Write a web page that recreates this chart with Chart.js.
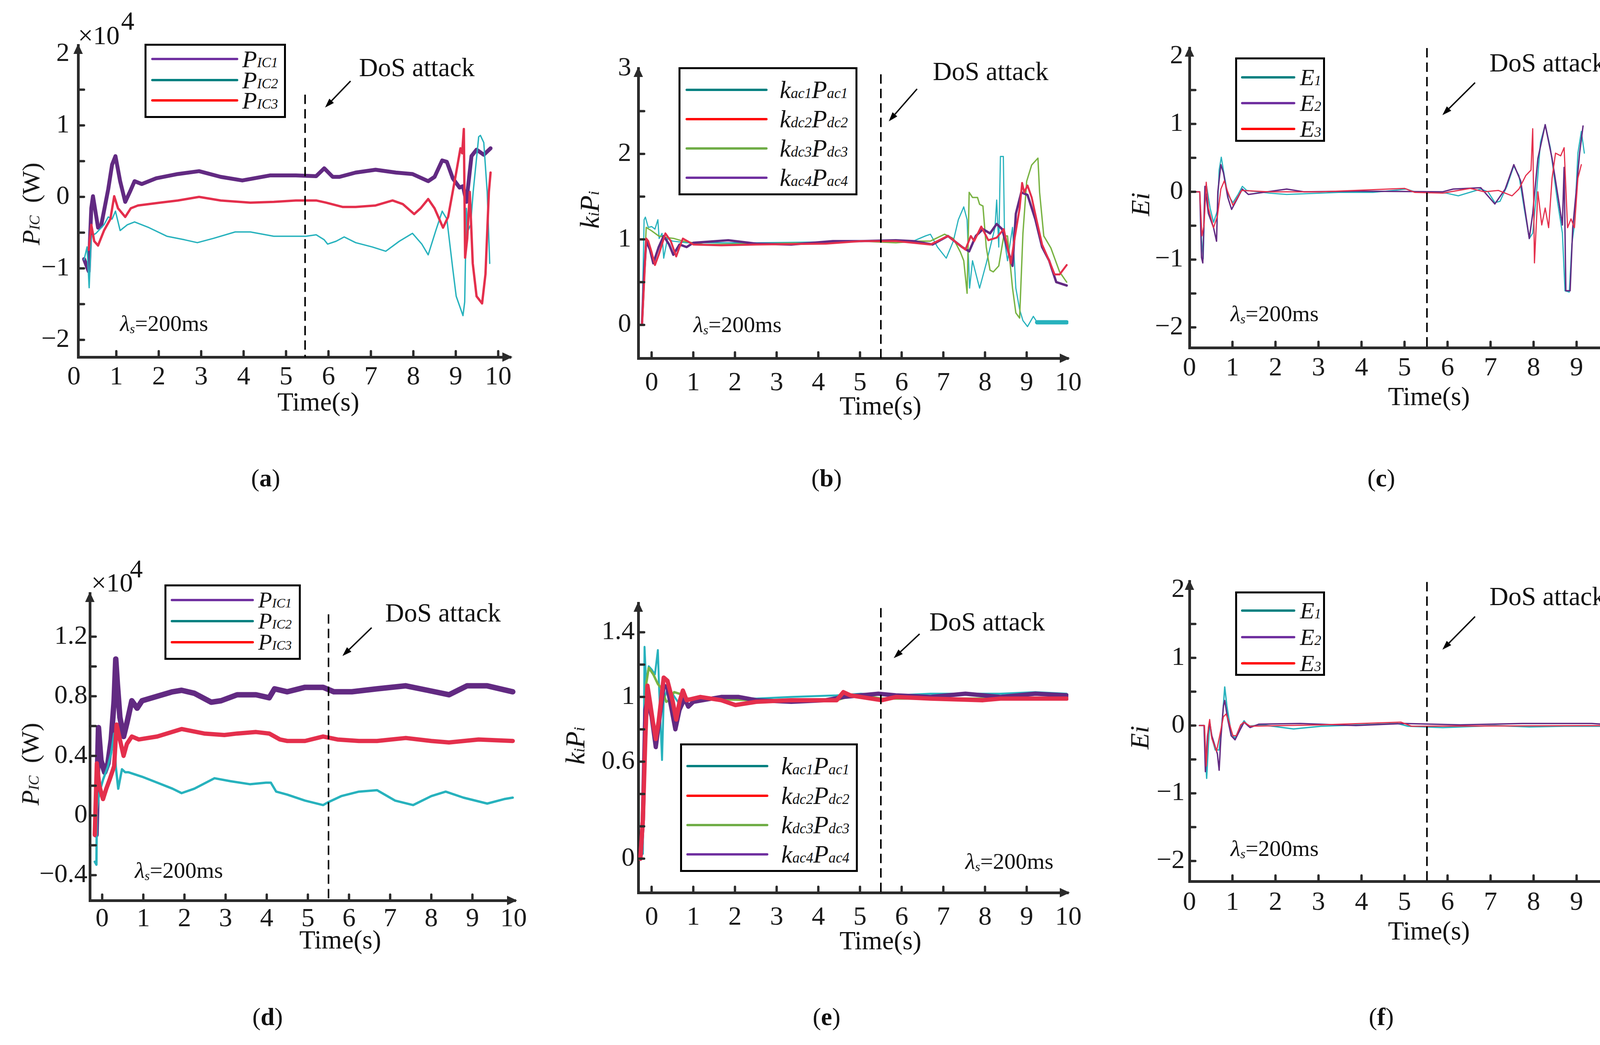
<!DOCTYPE html>
<html>
<head>
<meta charset="utf-8">
<title>DoS attack panels</title>
<script src="https://cdn.jsdelivr.net/npm/chart.js@4.4.1/dist/chart.umd.min.js"></script>
<style>
  html, body { margin: 0; padding: 0; background: #fff; }
  #fig { position: relative; width: 4242px; height: 2675px; background: #fff; overflow: hidden;
         font-family: "Liberation Serif", "Times New Roman", serif; color: #111; }
  #fig canvas { position: absolute; }
  .t { position: absolute; white-space: nowrap; line-height: 1; transform: translate(-50%, -50%); }
  .s { font-size: 0.58em; font-style: italic; }
  .legend { position: absolute; box-sizing: border-box; border: 5px solid #000; background: #fff; }
  .swatch { position: absolute; height: 6px; border-radius: 3px; }
</style>
</head>
<body>
<div id="fig"></div>
<script>
// ---------- data ----------
// x values are time in seconds, y values in the units of each panel's axis

// (a) P_IC in 1e4 W, lambda_s = 200 ms
const aTimeP1 = [0.24,0.35,0.41,0.45,0.57,0.64,0.81,0.90,0.98,1.09,1.21,1.32,1.43,1.60,1.94,2.45,2.95,3.46,3.97,4.62,5.23,5.71,5.90,6.10,6.26,6.64,7.11,7.59,7.98,8.35,8.50,8.68,8.79,8.93,9.09,9.17,9.25,9.37,9.49,9.66,9.82];
const aP1     = [-0.87,-1.04,-0.16,0.01,-0.43,-0.41,0.11,0.45,0.57,0.22,-0.07,0.07,0.22,0.18,0.26,0.32,0.36,0.28,0.23,0.30,0.30,0.29,0.40,0.28,0.28,0.34,0.38,0.34,0.32,0.22,0.28,0.51,0.49,0.26,0.13,0.15,-0.07,0.57,0.66,0.59,0.68];
const aTimeP2 = [0.24,0.31,0.36,0.41,0.52,0.71,0.81,0.90,0.98,1.09,1.26,1.43,1.77,2.19,2.61,2.91,3.29,3.80,4.16,4.71,5.47,5.71,5.90,5.98,6.18,6.37,6.64,7.03,7.35,7.67,7.98,8.20,8.35,8.53,8.68,8.79,8.93,9.01,9.17,9.21,9.25,9.29,9.35,9.41,9.54,9.58,9.66,9.74,9.80];
const aP2     = [-0.88,-0.70,-1.27,-0.55,-0.51,-0.39,-0.28,-0.31,-0.20,-0.47,-0.39,-0.35,-0.43,-0.55,-0.60,-0.64,-0.58,-0.49,-0.49,-0.55,-0.55,-0.53,-0.60,-0.66,-0.62,-0.56,-0.64,-0.70,-0.76,-0.62,-0.51,-0.66,-0.81,-0.47,-0.20,-0.31,-1.01,-1.39,-1.66,-1.47,-0.16,-0.47,-0.39,0.07,0.84,0.86,0.76,0.07,-0.93];
const aTimeP3 = [0.35,0.41,0.48,0.57,0.71,0.86,0.95,1.04,1.21,1.34,1.51,2.03,2.45,2.95,3.46,4.16,4.71,5.23,5.71,5.94,6.33,6.64,7.11,7.51,7.75,8.02,8.17,8.35,8.50,8.70,8.82,9.01,9.11,9.15,9.19,9.22,9.27,9.33,9.40,9.49,9.62,9.70,9.78,9.82];
const aP3     = [-0.74,-0.39,-0.62,-0.68,-0.47,-0.31,0.01,-0.16,-0.28,-0.16,-0.12,-0.08,-0.05,0.0,-0.05,-0.08,-0.07,-0.05,-0.05,-0.08,-0.14,-0.14,-0.12,-0.05,-0.10,-0.24,-0.16,-0.03,-0.16,-0.43,-0.28,0.34,0.68,0.61,0.95,-0.85,-0.58,0.07,-0.93,-1.39,-1.49,-1.08,0.07,0.34];

// (b) k_i P_i
const bTimeK1 = [-0.23,-0.18,-0.15,-0.08,0.0,0.08,0.15,0.18,0.25,0.29,0.38,0.50,0.84,2.51,4.18,5.86,6.28,6.57,6.69,6.86,7.07,7.24,7.36,7.49,7.57,7.63,7.70,7.87,8.03,8.24,8.28,8.33,8.37,8.44,8.47,8.54,8.66,8.74,8.83,8.91,9.02,9.16,9.25,9.96];
const bK1     = [0.02,1.23,1.26,1.14,1.15,1.12,1.23,1.01,1.07,0.78,1.01,0.98,0.96,0.96,0.97,0.98,0.98,1.04,1.06,0.91,0.78,0.98,1.23,1.38,1.23,0.43,0.75,0.43,0.72,1.14,1.46,0.91,1.97,1.97,0.98,0.75,1.14,0.43,0.18,0.05,-0.02,0.10,0.03,0.03];
const bTimeK2 = [-0.23,-0.17,-0.13,-0.08,0.0,0.08,0.17,0.33,0.46,0.59,0.67,0.75,1.0,1.67,2.51,4.18,5.02,5.86,6.69,7.11,7.45,7.53,7.66,7.74,7.91,8.08,8.28,8.45,8.54,8.62,8.70,8.83,8.89,8.94,9.02,9.12,9.25,9.37,9.54,9.67,9.79,9.96];
const bK2     = [0,0.59,1.01,0.98,0.85,0.70,0.82,1.07,0.98,0.80,0.91,1.01,0.94,0.93,0.94,0.95,0.98,0.98,0.94,1.04,0.91,0.88,1.04,0.98,1.15,0.99,1.02,1.12,0.91,0.72,0.98,1.36,1.66,1.55,1.63,1.49,1.20,0.94,0.75,0.59,0.59,0.70];
const bTimeK3 = [-0.23,-0.18,-0.13,0.0,0.17,0.38,0.54,0.75,1.26,2.51,4.18,5.02,5.86,6.36,6.69,7.03,7.24,7.41,7.49,7.57,7.62,7.70,7.82,7.87,7.95,8.03,8.12,8.20,8.33,8.45,8.54,8.66,8.74,8.83,8.91,9.00,9.12,9.27,9.31,9.41,9.58,9.79,9.96];
const bK3     = [0.02,0.59,1.14,1.10,1.04,1.02,1.01,0.98,0.94,0.95,0.96,0.98,0.96,0.98,0.98,1.06,1.01,0.85,0.75,0.37,1.55,1.49,1.49,1.41,1.39,0.91,0.64,0.62,0.69,1.04,1.04,0.43,0.14,0.08,1.07,1.68,1.87,1.95,1.55,1.04,0.90,0.62,0.50];
const bTimeK4 = [-0.23,-0.18,-0.13,-0.04,0.04,0.17,0.29,0.42,0.52,0.67,0.84,1.0,1.84,2.51,3.35,4.35,5.02,5.86,6.28,6.74,7.11,7.45,7.62,7.78,7.95,8.12,8.28,8.41,8.58,8.66,8.74,8.87,9.02,9.21,9.37,9.54,9.71,9.96];
const bK4     = [0.02,0.59,0.98,0.88,0.72,0.91,1.04,0.94,0.82,0.94,0.91,0.96,0.99,0.95,0.94,0.98,0.98,0.99,0.98,0.94,1.04,0.91,0.86,1.04,1.12,1.07,1.18,1.12,0.82,0.69,1.30,1.55,1.52,1.23,0.91,0.75,0.50,0.46];

// (c) E_i
const cTimeE1 = [0.12,0.24,0.28,0.32,0.36,0.40,0.48,0.56,0.65,0.69,0.74,0.81,0.89,1.01,1.13,1.23,1.33,1.85,2.26,3.47,4.27,5.04,5.24,5.97,6.25,6.77,6.94,7.10,7.22,7.38,7.54,7.66,7.78,7.90,7.98,8.06,8.16,8.27,8.39,8.55,8.67,8.73,8.83,8.89,8.95,9.03,9.11,9.18];
const cE1     = [0,0,-0.69,-0.99,0,0.08,-0.24,-0.45,-0.28,0.32,0.51,0.24,-0.04,-0.16,-0.04,0.08,0.02,-0.02,-0.04,-0.01,-0.01,0.04,0,-0.02,-0.06,0.04,0,-0.16,-0.14,0.08,0.38,0.24,-0.24,-0.69,-0.61,-0.08,0.73,0.99,0.65,-0.12,-0.61,-1.46,-1.48,-0.77,-0.49,0.57,0.89,0.57];
const cTimeE2 = [0.12,0.24,0.28,0.31,0.36,0.44,0.56,0.63,0.66,0.73,0.79,0.89,0.98,1.13,1.23,1.37,2.26,2.66,3.87,5.89,6.13,6.77,7.10,7.34,7.54,7.70,7.90,7.98,8.10,8.27,8.43,8.59,8.67,8.71,8.75,8.85,8.91,8.99,9.07,9.15];
const cE2     = [0,0,-0.97,-1.05,0.08,-0.32,-0.53,-0.73,0,0.40,0.28,-0.08,-0.26,-0.08,0.04,-0.04,0.04,0,0.01,0,0.04,0.06,-0.18,0.04,0.40,0.16,-0.69,-0.32,0.49,0.99,0.49,-0.16,-0.49,0.36,-1.46,-1.46,-0.53,0,0.57,0.97];
const cTimeE3 = [0.12,0.24,0.29,0.34,0.39,0.44,0.56,0.65,0.73,0.81,0.89,1.01,1.21,1.85,3.06,5.0,5.24,5.89,6.53,6.85,7.18,7.50,7.66,7.82,7.94,7.98,8.02,8.10,8.19,8.27,8.35,8.43,8.51,8.63,8.71,8.79,8.87,8.95,9.03,9.11];
const cE3     = [0,0,-0.65,-0.49,0.14,-0.24,-0.53,-0.36,0.04,0.16,0,-0.20,0.02,0,0,0.05,-0.01,-0.02,0.05,0,0.02,-0.06,0.04,0.24,0.32,0.93,-1.05,0,-0.49,-0.24,-0.53,0.20,0.57,0.53,0.65,-0.53,-0.40,-0.53,0.20,0.40];

// (d) P_IC in 1e4 W, after mitigation
const dTimeP1 = [-0.15,-0.09,-0.03,0.06,0.14,0.22,0.29,0.33,0.37,0.43,0.52,0.60,0.72,0.85,0.97,1.34,1.71,1.93,2.24,2.65,2.89,3.28,3.74,4.06,4.19,4.50,4.93,5.37,5.63,6.07,6.68,7.38,7.91,8.43,8.87,9.36,9.98];
const dP1     = [-0.13,0.59,0.37,0.29,0.35,0.51,0.77,1.05,0.88,0.66,0.53,0.62,0.77,0.72,0.77,0.80,0.83,0.84,0.82,0.76,0.77,0.81,0.81,0.79,0.85,0.83,0.86,0.86,0.83,0.83,0.85,0.87,0.84,0.81,0.87,0.87,0.83];
const dTimeP2 = [-0.18,-0.14,-0.13,-0.07,0.02,0.14,0.22,0.29,0.33,0.39,0.48,0.56,0.64,0.97,1.34,1.71,1.93,2.24,2.73,3.12,3.59,3.98,4.10,4.23,4.50,4.93,5.37,5.50,5.81,6.24,6.68,7.12,7.56,8.0,8.35,8.78,9.36,9.77,9.98];
const dP2     = [-0.31,-0.33,0.04,0.15,0.24,0.33,0.42,0.55,0.33,0.18,0.31,0.29,0.29,0.26,0.22,0.18,0.15,0.18,0.25,0.23,0.21,0.22,0.22,0.16,0.14,0.10,0.07,0.09,0.13,0.16,0.17,0.10,0.07,0.13,0.16,0.12,0.08,0.11,0.12];
const dTimeP3 = [-0.18,-0.13,-0.07,0.02,0.10,0.18,0.29,0.35,0.43,0.52,0.60,0.72,0.89,1.34,1.93,2.48,2.97,3.28,3.74,4.06,4.32,4.50,4.93,5.37,5.72,6.24,6.68,7.38,8.0,8.43,9.15,9.98];
const dP3     = [-0.13,0.35,0.20,0.11,0.18,0.24,0.33,0.61,0.51,0.40,0.48,0.53,0.51,0.53,0.58,0.55,0.54,0.55,0.56,0.55,0.51,0.50,0.50,0.53,0.51,0.50,0.50,0.52,0.50,0.49,0.51,0.50];

// (e) k_i P_i, after mitigation
const eTimeK1 = [-0.29,-0.21,-0.17,-0.13,-0.07,0.0,0.08,0.15,0.18,0.25,0.29,0.38,0.50,0.63,0.75,1.0,1.67,2.51,3.35,4.44,5.02,5.86,6.69,7.53,8.37,9.21,9.96];
const eK1     = [0.02,0.03,1.31,1.08,1.19,1.17,1.14,1.29,1.05,0.61,0.98,1.05,1.02,0.97,0.98,0.99,1.0,0.99,1.0,1.01,1.02,1.01,1.02,1.02,1.02,1.03,1.02];
const eTimeK2 = [-0.27,-0.21,-0.15,-0.10,-0.04,0.04,0.10,0.17,0.29,0.38,0.50,0.59,0.67,0.75,0.84,1.17,1.67,2.01,2.51,3.35,4.44,4.60,4.77,5.02,5.52,5.86,6.69,7.95,8.37,9.96];
const eK2     = [0,0.24,0.75,1.07,0.97,0.83,0.74,0.85,1.12,1.10,0.98,0.86,0.97,1.04,0.98,1.0,0.98,0.95,0.97,0.98,0.98,1.03,1.01,1.0,0.98,1.0,0.99,0.98,0.99,0.99];
const eTimeK3 = [-0.27,-0.21,-0.17,-0.13,-0.07,0.04,0.15,0.25,0.35,0.42,0.54,0.67,0.79,1.0,2.51,4.44,4.69,5.02,5.52,7.53,9.96];
const eK3     = [0,0.24,0.75,1.08,1.18,1.14,1.08,1.05,0.97,0.98,1.03,1.02,0.99,0.99,0.98,0.98,1.0,1.01,0.99,0.99,0.99];
const eTimeK4 = [-0.27,-0.21,-0.15,-0.10,0.0,0.10,0.17,0.29,0.38,0.46,0.57,0.67,0.79,0.88,1.0,1.67,2.09,2.51,3.35,4.18,4.60,5.02,5.44,5.86,6.69,7.53,8.37,9.21,9.96];
const eK4     = [0,0.24,0.92,0.98,0.88,0.69,0.83,1.07,1.06,0.95,0.80,0.92,0.99,0.94,0.97,1.0,1.0,0.98,0.97,0.98,1.0,1.01,1.02,1.01,1.0,1.02,1.0,1.02,1.01];

// (f) E_i, after mitigation
const fTimeE1 = [0.23,0.34,0.37,0.40,0.44,0.47,0.51,0.60,0.69,0.73,0.77,0.82,0.87,0.97,1.06,1.17,1.27,1.37,1.69,2.42,3.06,4.84,5.08,5.89,7.10,7.90,8.71,9.84];
const fE1     = [0,0,-0.44,-0.78,-0.28,0.05,-0.15,-0.36,-0.36,-0.11,0.13,0.57,0.29,-0.11,-0.19,-0.03,0.07,-0.01,0.01,-0.05,-0.01,0.03,-0.01,-0.03,0,-0.02,-0.01,-0.01];
const fTimeE2 = [0.23,0.34,0.37,0.42,0.47,0.52,0.65,0.69,0.73,0.79,0.82,0.89,0.97,1.06,1.17,1.27,1.41,1.61,2.58,3.87,5.0,6.29,7.74,9.35,9.84];
const fE2     = [0,0,-0.68,-0.15,0.05,-0.15,-0.42,-0.66,-0.19,0.29,0.37,0.09,-0.15,-0.21,-0.07,0.05,-0.03,0.02,0.03,0,0.03,0.01,0.03,0.03,0.01];
const fTimeE3 = [0.23,0.35,0.39,0.44,0.47,0.52,0.63,0.69,0.79,0.85,0.90,1.01,1.09,1.19,1.27,1.41,3.06,4.92,5.16,9.84];
const fE3     = [0,0,-0.60,-0.03,0.09,-0.19,-0.38,-0.19,0.13,0.17,0.09,-0.15,-0.15,0.01,0.05,-0.01,0.01,0.05,-0.01,0];

// ticks and labels
const xTicks = [0,1,2,3,4,5,6,7,8,9,10];
const xTickLabels = ['0','1','2','3','4','5','6','7','8','9','10'];
const yTicksWide = [-2,-1.5,-1,-0.5,0,0.5,1,1.5,2];
const yLabelsWide = ['\u22122','','\u22121','','0','','1','','2'];
const yTicksK = [0,0.5,1,1.5,2,2.5,3];
const yLabelsK = ['0','','1','','2','','3'];
const yTicksP = [-0.4,-0.2,0,0.2,0.4,0.6,0.8,1.0,1.2];
const yLabelsP = ['\u22120.4','','0','','0.4','','0.8','','1.2'];
const yTicksK2 = [0,0.2,0.4,0.6,0.8,1.0,1.2,1.4];
const yLabelsK2 = ['0','','','0.6','','1','','1.4'];

const dosTime = [5.45, 5.5, 5.52, 5.5, 5.5, 5.52];

const namesIC = ['<i>P</i><span class="s">IC1</span>', '<i>P</i><span class="s">IC2</span>', '<i>P</i><span class="s">IC3</span>'];
const namesK = ['<i>k</i><span class="s">ac1</span><i>P</i><span class="s">ac1</span>',
                '<i>k</i><span class="s">dc2</span><i>P</i><span class="s">dc2</span>',
                '<i>k</i><span class="s">dc3</span><i>P</i><span class="s">dc3</span>',
                '<i>k</i><span class="s">ac4</span><i>P</i><span class="s">ac4</span>'];
const namesE = ['<i>E</i><span class="s">1</span>', '<i>E</i><span class="s">2</span>', '<i>E</i><span class="s">3</span>'];

// ---------- styles ----------
const FONT = '"Liberation Serif", "Times New Roman", serif';
const AXIS = '#2b2b2b';
const PURPLE = '#622a82', TEAL = '#27b2bd', RED = '#e42f4c', GREEN = '#79b343';
const L_PURPLE = '#7030a0', L_TEAL = '#008080', L_RED = '#ff0000', L_GREEN = '#70ad47';

const fig = document.getElementById('fig');

function pts(t, v) { return t.map((x, i) => ({ x: x, y: v[i] })); }

// dashed DoS marker, pointer arrow, inward ticks and axis arrowheads
const decor = {
  id: 'decor',
  afterDatasetsDraw(chart, args, o) {
    const { ctx, chartArea: a, scales: { x, y } } = chart;
    ctx.save();
    const px = Math.round(x.getPixelForValue(o.dos));
    ctx.strokeStyle = '#000';
    ctx.lineWidth = 4;
    ctx.setLineDash([24, 13]);
    ctx.beginPath();
    ctx.moveTo(px, y.getPixelForValue(o.dosTop));
    ctx.lineTo(px, a.bottom);
    ctx.stroke();
    ctx.setLineDash([]);

    const x1 = x.getPixelForValue(o.arrow[0]), y1 = y.getPixelForValue(o.arrow[1]);
    const x2 = x.getPixelForValue(o.arrow[2]), y2 = y.getPixelForValue(o.arrow[3]);
    const ang = Math.atan2(y2 - y1, x2 - x1), hl = 24, hw = 8;
    const bx = x2 - hl * Math.cos(ang), by = y2 - hl * Math.sin(ang);
    ctx.lineWidth = 3.5;
    ctx.beginPath(); ctx.moveTo(x1, y1); ctx.lineTo(bx, by); ctx.stroke();
    ctx.fillStyle = '#000';
    ctx.beginPath();
    ctx.moveTo(x2, y2);
    ctx.lineTo(bx + hw * Math.sin(ang), by - hw * Math.cos(ang));
    ctx.lineTo(bx - hw * Math.sin(ang), by + hw * Math.cos(ang));
    ctx.closePath(); ctx.fill();
    ctx.restore();
  },
  afterDraw(chart) {
    const { ctx, chartArea: a, scales: { x, y } } = chart;
    ctx.save();
    ctx.strokeStyle = AXIS; ctx.fillStyle = AXIS; ctx.lineWidth = 6; ctx.lineCap = 'round';
    x.ticks.forEach(tk => {
      const p = x.getPixelForValue(tk.value);
      if (p < a.left + 6 || p > a.right - 30) return;
      ctx.beginPath(); ctx.moveTo(p, a.bottom); ctx.lineTo(p, a.bottom - 15); ctx.stroke();
    });
    y.ticks.forEach(tk => {
      const p = y.getPixelForValue(tk.value);
      if (p > a.bottom - 6 || p < a.top + 30) return;
      ctx.beginPath(); ctx.moveTo(a.left, p); ctx.lineTo(a.left + 15, p); ctx.stroke();
    });
    ctx.beginPath();
    ctx.moveTo(a.left, a.top - 4); ctx.lineTo(a.left - 12, a.top + 22); ctx.lineTo(a.left + 12, a.top + 22);
    ctx.closePath(); ctx.fill();
    ctx.beginPath();
    ctx.moveTo(a.right + 4, a.bottom); ctx.lineTo(a.right - 22, a.bottom - 12); ctx.lineTo(a.right - 22, a.bottom + 12);
    ctx.closePath(); ctx.fill();
    ctx.restore();
  }
};

// area = [left, top, right, bottom] of the plotting box on the page
const panels = [
  { area: [200, 116, 1308, 914], x: [0.1, 10.3], y: [-2.24, 2.12], yTicks: yTicksWide, yLabels: yLabelsWide, xPad: 11, yPad: 22,
    dosTop: 1.43, arrow: [6.52, 1.62, 5.92, 1.25],
    series: [
      { t: aTimeP3, v: aP3, color: RED, width: 6 },
      { t: aTimeP2, v: aP2, color: TEAL, width: 3.5 },
      { t: aTimeP1, v: aP1, color: PURPLE, width: 10 } ] },
  { area: [1634, 175, 2735, 917], x: [-0.32, 10.0], y: [-0.39, 3.0], yTicks: yTicksK, yLabels: yLabelsK, xPad: 23, yPad: 18,
    dosTop: 2.93, arrow: [6.37, 2.76, 5.69, 2.38],
    series: [
      { t: bTimeK2, v: bK2, color: RED, width: 5 },
      { t: bTimeK4, v: bK4, color: PURPLE, width: 6 },
      { t: bTimeK3, v: bK3, color: GREEN, width: 3.5 },
      { t: bTimeK1, v: bK1, color: TEAL, width: 3, wideFrom: 9.25, wideWidth: 11 } ] },
  { area: [3045, 123, 4144, 890], x: [0, 9.98], y: [-2.30, 2.12], yTicks: yTicksWide, yLabels: yLabelsWide, xPad: 12, yPad: 16,
    dosTop: 2.12, arrow: [6.64, 1.61, 5.88, 1.13],
    series: [
      { t: cTimeE3, v: cE3, color: RED, width: 3 },
      { t: cTimeE2, v: cE2, color: PURPLE, width: 3.5 },
      { t: cTimeE1, v: cE1, color: TEAL, width: 3 } ] },
  { area: [230, 1519, 1320, 2305], x: [-0.3, 10.05], y: [-0.57, 1.49], yTicks: yTicksP, yLabels: yLabelsP, xPad: 7, yPad: 6,
    dosTop: 1.35, arrow: [6.55, 1.26, 5.84, 1.07],
    series: [
      { t: dTimeP3, v: dP3, color: RED, width: 11 },
      { t: dTimeP2, v: dP2, color: TEAL, width: 6 },
      { t: dTimeP1, v: dP1, color: PURPLE, width: 14 } ] },
  { area: [1634, 1544, 2735, 2285], x: [-0.32, 10.0], y: [-0.21, 1.58], yTicks: yTicksK2, yLabels: yLabelsK2, xPad: 23, yPad: 9,
    dosTop: 1.55, arrow: [6.43, 1.39, 5.81, 1.24],
    series: [
      { t: eTimeK2, v: eK2, color: RED, width: 11 },
      { t: eTimeK4, v: eK4, color: PURPLE, width: 11 },
      { t: eTimeK3, v: eK3, color: GREEN, width: 6 },
      { t: eTimeK1, v: eK1, color: TEAL, width: 5 } ] },
  { area: [3045, 1488, 4144, 2256], x: [0, 9.98], y: [-2.30, 2.13], yTicks: yTicksWide, yLabels: yLabelsWide, xPad: 14, yPad: 12,
    dosTop: 2.12, arrow: [6.64, 1.61, 5.88, 1.12],
    series: [
      { t: fTimeE3, v: fE3, color: RED, width: 3 },
      { t: fTimeE2, v: fE2, color: PURPLE, width: 3.5 },
      { t: fTimeE1, v: fE1, color: TEAL, width: 3.5 } ] }
];

const PL = 190, PT = 70, PR = 70, PB = 120;

panels.forEach((p, k) => {
  const c = document.createElement('canvas');
  const w = p.area[2] - p.area[0] + PL + PR;
  const h = p.area[3] - p.area[1] + PT + PB;
  c.width = w; c.height = h;
  c.style.width = w + 'px'; c.style.height = h + 'px';
  c.style.left = (p.area[0] - PL) + 'px';
  c.style.top = (p.area[1] - PT) + 'px';
  fig.appendChild(c);

  const tickFont = { family: FONT, size: 68 };
  new Chart(c, {
    type: 'line',
    data: {
      datasets: p.series.map(s => {
        const ds = {
          data: pts(s.t, s.v), borderColor: s.color, borderWidth: s.width,
          pointRadius: 0, tension: 0, fill: false,
          borderJoinStyle: 'round', borderCapStyle: 'round'
        };
        if (s.wideFrom != null) {
          ds.segment = { borderWidth: ctx => (ctx.p0.parsed.x >= s.wideFrom ? s.wideWidth : undefined) };
        }
        return ds;
      })
    },
    options: {
      responsive: false, animation: false, devicePixelRatio: 1,
      layout: { padding: { left: 0, top: PT, right: PR, bottom: 0 } },
      plugins: {
        legend: { display: false }, tooltip: { enabled: false },
        decor: { dos: dosTime[k], dosTop: p.dosTop, arrow: p.arrow }
      },
      scales: {
        x: {
          type: 'linear', min: p.x[0], max: p.x[1],
          afterBuildTicks: s => { s.ticks = xTicks.map(v => ({ value: v })); },
          afterFit: s => { s.height = PB; },
          grid: { display: false, drawTicks: false },
          border: { display: true, width: 7, color: AXIS },
          ticks: { autoSkip: false, maxRotation: 0, minRotation: 0, padding: p.xPad, color: '#1a1a1a',
                   font: tickFont, callback: (v, i) => xTickLabels[i] }
        },
        y: {
          type: 'linear', min: p.y[0], max: p.y[1],
          afterBuildTicks: s => { s.ticks = p.yTicks.map(v => ({ value: v })); },
          afterFit: s => { s.width = PL; },
          grid: { display: false, drawTicks: false },
          border: { display: true, width: 7, color: AXIS },
          ticks: { autoSkip: false, padding: p.yPad, color: '#1a1a1a',
                   font: tickFont, callback: (v, i) => p.yLabels[i] }
        }
      }
    },
    plugins: [decor]
  });
});

// ---------- text overlays ----------
function put(html, x, y, size, css) {
  const d = document.createElement('div');
  d.className = 't';
  d.style.left = x + 'px';
  d.style.top = y + 'px';
  d.style.fontSize = size + 'px';
  if (css) d.style.cssText += css;
  d.innerHTML = html;
  fig.appendChild(d);
}

function legend(lay, names, colors) {
  const box = document.createElement('div');
  box.className = 'legend';
  box.style.left = lay.box[0] + 'px';
  box.style.top = lay.box[1] + 'px';
  box.style.width = (lay.box[2] - lay.box[0]) + 'px';
  box.style.height = (lay.box[3] - lay.box[1]) + 'px';
  fig.appendChild(box);
  lay.rows.forEach((ry, i) => {
    const sw = document.createElement('div');
    sw.className = 'swatch';
    sw.style.left = lay.line[0] + 'px';
    sw.style.top = (ry - 3) + 'px';
    sw.style.width = (lay.line[1] - lay.line[0]) + 'px';
    sw.style.background = colors[i];
    fig.appendChild(sw);
    put(names[i], lay.textX, ry, lay.size, 'transform: translate(0, -50%);');
  });
}

legend({ box: [370, 112, 732, 302], rows: [151, 205, 257], line: [387, 610], textX: 620, size: 62 }, namesIC, [L_PURPLE, L_TEAL, L_RED]);
legend({ box: [1737, 172, 2195, 500], rows: [230, 305, 380, 455], line: [1755, 1965], textX: 1996, size: 64 }, namesK, [L_TEAL, L_RED, L_GREEN, L_PURPLE]);
legend({ box: [3162, 147, 3392, 363], rows: [198, 264, 330], line: [3177, 3316], textX: 3328, size: 60 }, namesE, [L_TEAL, L_PURPLE, L_RED]);
legend({ box: [421, 1496, 770, 1689], rows: [1536, 1590, 1644], line: [437, 650], textX: 661, size: 58 }, namesIC, [L_PURPLE, L_TEAL, L_RED]);
legend({ box: [1741, 1903, 2196, 2232], rows: [1961, 2037, 2112, 2187], line: [1757, 1967], textX: 2000, size: 64 }, namesK, [L_TEAL, L_RED, L_GREEN, L_PURPLE]);
legend({ box: [3162, 1514, 3392, 1730], rows: [1563, 1631, 1698], line: [3177, 3316], textX: 3328, size: 60 }, namesE, [L_TEAL, L_PURPLE, L_RED]);

const dosPos = [[1067, 172], [2536, 182], [3961, 160], [1134, 1568], [2527, 1591], [3961, 1526]];
const lamPos = [[420, 828], [1888, 831], [3263, 803], [458, 2228], [2584, 2205], [3263, 2172]];
const timePos = [[815, 1028], [2254, 1038], [3658, 1014], [871, 2405], [2254, 2407], [3658, 2382]];
const capPos = [[680, 1224], [2116, 1224], [3536, 1224], [685, 2603], [2116, 2603], [3536, 2603]];
const capText = ['a', 'b', 'c', 'd', 'e', 'f'];
const yTitlePos = [[80, 522], [1510, 537], [2919, 523], [78, 1956], [1473, 1909], [2917, 1888]];
const yTitles = [
  ['<i>P</i><span class="s">IC</span>&nbsp;&nbsp;(W)', 64],
  ['<i>k</i><span class="s">i</span><i>P</i><span class="s">i</span>', 70],
  ['<i>Ei</i>', 68]
];

for (let k = 0; k < 6; k++) {
  put('DoS attack', dosPos[k][0], dosPos[k][1], 67);
  put('<i>\u03bb</i><span class="s" style="position:relative;top:0.18em">s</span>=200ms', lamPos[k][0], lamPos[k][1], 58);
  put('Time(s)', timePos[k][0], timePos[k][1], 67);
  put('(<b>' + capText[k] + '</b>)', capPos[k][0], capPos[k][1], 64);
  const yt = yTitles[k % 3];
  put(yt[0], yTitlePos[k][0], yTitlePos[k][1], yt[1], 'transform: translate(-50%, -50%) rotate(-90deg);');
}

// exponent labels of the power panels
put('\u00d710', 253, 90, 68);
put('4', 327, 53, 68);
put('\u00d710', 287, 1491, 68);
put('4', 349, 1456, 66);
</script>
</body>
</html>
